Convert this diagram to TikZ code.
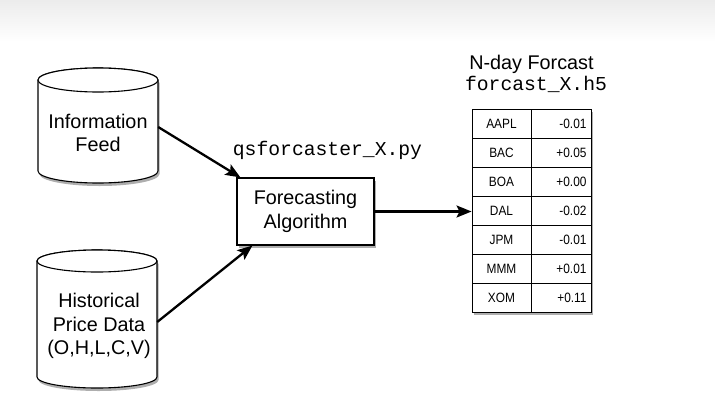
\documentclass[tikz,border=0pt]{standalone}
\usepackage{fontspec}
\setmainfont{Liberation Sans}
\setmonofont{Liberation Mono}
\usetikzlibrary{shadows,arrows.meta}
\newcommand\narrowtxt[1]{\scalebox{0.88}[1]{#1}}
\begin{document}
\begin{tikzpicture}[x=1pt,y=-1pt,
  shape line/.style={draw=black, line width=1.1pt, fill=white},
  shad/.style={drop shadow={shadow xshift=1.5pt,shadow yshift=-3pt,opacity=0.45,fill=black!70}},
  lbl/.style={align=center, font=\fontsize{19.8}{23.3}\selectfont, inner sep=0pt},
  mono/.style={font=\fontsize{19.7}{22}\selectfont\ttfamily, inner sep=0pt},
  cell/.style={draw=black, line width=0.9pt, minimum height=29pt, inner sep=0pt, font=\fontsize{13.5}{15}\selectfont},
  flow/.style={line width=2.3pt, -{Stealth[length=15pt,width=12pt,inset=3pt]}}
]
\useasboundingbox (0,0) rectangle (715,418);
\fill[white] (0,0) rectangle (715,418);
\shade[top color={rgb,255:red,236;green,236;blue,236}, bottom color=white] (0,0) rectangle (715,42);

% cylinder 1
\draw[shape line, shad] (38,80) -- (38,171) arc[start angle=180,end angle=0,x radius=60,y radius=12] -- (158,80) arc[start angle=0,end angle=-180,x radius=60,y radius=12] -- cycle;
\draw[shape line] (98,80) ellipse[x radius=60,y radius=12];
\node[inner sep=0pt, minimum width=120pt, minimum height=118pt] (feedcyl) at (98,127) {};
\node[lbl] (feed) at (98,133) {Information\\Feed};

% cylinder 2
\draw[shape line, shad] (37,261) -- (37,377) arc[start angle=180,end angle=0,x radius=60,y radius=11] -- (157,261) arc[start angle=0,end angle=-180,x radius=60,y radius=11] -- cycle;
\draw[shape line] (97,261) ellipse[x radius=60,y radius=11];
\node[inner sep=0pt, minimum width=120pt, minimum height=138pt] (histcyl) at (97,322) {};
\node[lbl] (hist) at (99,326) {Historical\\Price Data\\(O,H,L,C,V)};

% algorithm box
\node[shape line, shad, lbl, minimum width=137pt, minimum height=67pt] (algo) at (305.5,211.5) {Forecasting\\Algorithm};
\node[mono] (algolbl) at (327.5,150) {qsforcaster\_X.py};

% titles
\node[lbl] (title) at (531.5,64) {N-day Forcast};
\node[mono] (file) at (536,84) {forcast\_X.h5};

% table
\fill[white, shad] (472,109) rectangle (591,312);
\foreach \s/\v [count=\i from 0] in {AAPL/-0.01,BAC/+0.05,BOA/+0.00,DAL/-0.02,JPM/-0.01,MMM/+0.01,XOM/+0.11}{
  \node[cell, minimum width=59pt, fill=white] (L\s) at (501.5,123.5+29*\i) {\narrowtxt{\s}};
  \node[cell, minimum width=60pt, fill=white, text width=51pt, align=right] (R\s) at (561,123.5+29*\i) {\narrowtxt{\v}};
}

% connectors
\draw[flow] (feedcyl.east) -- ([xshift=4pt]algo.north west);
\draw[flow] (histcyl.east) -- ([xshift=16pt]algo.south west);
\draw[flow] (algo.east) -- (algo.east -| LDAL.west);
\end{tikzpicture}
\end{document}
